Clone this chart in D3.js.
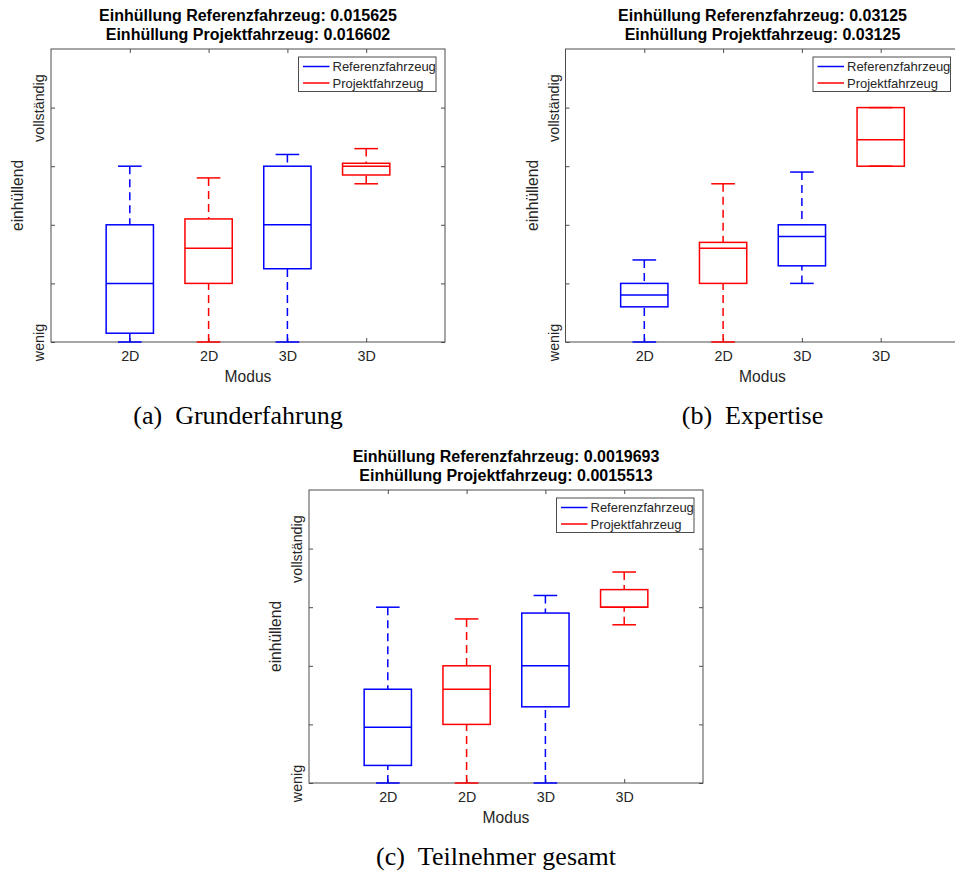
<!DOCTYPE html>
<html>
<head>
<meta charset="utf-8">
<script src="https://cdn.jsdelivr.net/npm/d3@7"></script>
<style>
  body { margin: 0; background: #fff; }
  svg { display: block; }
  text { font-family: "Liberation Sans", Arial, Helvetica, sans-serif; fill: #262626; }
  .caption { font-family: "Liberation Serif", "Times New Roman", serif; fill: #000; }
</style>
</head>
<body>
<svg id="svg" width="955" height="873"></svg>
<script>
// categories on the x axis (one box per position)
const categories = ["2D", "2D", "3D", "3D"];
const boxSeries = [0, 1, 0, 1];   // which series each box belongs to
const seriesNames = ["Referenzfahrzeug", "Projektfahrzeug"];
const seriesColors = ["#0000ff", "#ff0000"];

// y axis ticks
const yTickValues = [1, 2, 3, 4, 5];
const yTickLabels = ["wenig", "", "", "", "vollständig"];
const yDomain = [1, 6];
const xDomain = [0, 5];

// box stats per panel: [lower whisker, q1, median, q3, upper whisker]
const grunderfahrungStats = [
    [1.0, 1.15, 2.0, 3.0, 4.0],
    [1.0, 2.0, 2.6, 3.1, 3.8],
    [1.0, 2.25, 3.0, 4.0, 4.2],
    [3.7, 3.85, 4.0, 4.05, 4.3]
];
const expertiseStats = [
    [1.0, 1.6, 1.8, 2.0, 2.4],
    [1.0, 2.0, 2.6, 2.7, 3.7],
    [2.0, 2.3, 2.8, 3.0, 3.9],
    [4.0, 4.0, 4.45, 5.0, 5.0]
];
const gesamtStats = [
    [1.0, 1.3, 1.95, 2.6, 4.0],
    [1.0, 2.0, 2.6, 3.0, 3.8],
    [1.0, 2.3, 3.0, 3.9, 4.2],
    [3.7, 4.0, 4.0, 4.3, 4.6]
];

// envelope values shown in the titles
const grunderfahrungEnvelope = ["0.015625", "0.016602"];
const expertiseEnvelope = ["0.03125", "0.03125"];
const gesamtEnvelope = ["0.0019693", "0.0015513"];

const captions = ["(a)\u2002Grunderfahrung", "(b)\u2002Expertise", "(c)\u2002Teilnehmer gesamt"];

let svg = d3.select("#svg");
const width = 394, height = 293;

function drawPanel(left, top, stats, envelope, caption) {
    let chart = svg.append("g")
        .attr("transform", "translate(" + left + "," + top + ")");

    let xScale = d3.scaleLinear().domain(xDomain).range([0, width]);
    let yScale = d3.scaleLinear().domain(yDomain).range([height, 0]);
    const unit = xScale(1) - xScale(0);
    const boxW = 0.6 * unit, capW = 0.3 * unit;

    // axes with inward ticks
    let xAxis = chart.append("g")
        .attr("transform", "translate(0," + height + ")")
        .call(d3.axisBottom(xScale)
            .tickValues(d3.range(1, categories.length + 1))
            .tickFormat(d => categories[d - 1])
            .tickSizeInner(-4).tickSizeOuter(0));
    xAxis.selectAll("text")
        .attr("y", 18.5).attr("dy", null)
        .style("font-size", "14.3px");

    let yAxis = chart.append("g")
        .call(d3.axisLeft(yScale)
            .tickValues(yTickValues)
            .tickFormat((d, i) => yTickLabels[i])
            .tickSizeInner(-4).tickSizeOuter(0));
    yAxis.selectAll("text")
        .attr("x", null).attr("dy", null)
        .attr("text-anchor", "middle")
        .attr("transform", "translate(-7,0) rotate(-90)")
        .style("font-size", "14.3px");

    chart.append("g")
        .call(d3.axisTop(xScale)
            .tickValues(d3.range(1, categories.length + 1))
            .tickFormat("").tickSizeInner(-4).tickSizeOuter(0));
    chart.append("g")
        .attr("transform", "translate(" + width + ",0)")
        .call(d3.axisRight(yScale)
            .tickValues(yTickValues)
            .tickFormat("").tickSizeInner(-4).tickSizeOuter(0));

    chart.selectAll(".domain").remove();
    chart.selectAll(".tick line").attr("stroke", "#4d4d4d");

    chart.append("rect")
        .attr("width", width).attr("height", height)
        .attr("fill", "none").attr("stroke", "#4d4d4d").attr("stroke-width", 1);

    // boxes
    let boxes = chart.selectAll(".box")
        .data(stats)
        .enter().append("g")
        .attr("class", "box")
        .attr("stroke", (d, i) => seriesColors[boxSeries[i]])
        .attr("fill", "none")
        .attr("stroke-width", 1.5);

    boxes.append("line")   // upper whisker, drawn from the cap down to the box
        .attr("x1", (d, i) => xScale(i + 1)).attr("x2", (d, i) => xScale(i + 1))
        .attr("y1", d => yScale(d[4])).attr("y2", d => yScale(d[3]))
        .attr("stroke-dasharray", "8,5");
    boxes.append("line")   // lower whisker
        .attr("x1", (d, i) => xScale(i + 1)).attr("x2", (d, i) => xScale(i + 1))
        .attr("y1", d => yScale(d[0])).attr("y2", d => yScale(d[1]))
        .attr("stroke-dasharray", "8,5");
    boxes.append("line")
        .attr("x1", (d, i) => xScale(i + 1) - capW / 2).attr("x2", (d, i) => xScale(i + 1) + capW / 2)
        .attr("y1", d => yScale(d[4])).attr("y2", d => yScale(d[4]));
    boxes.append("line")
        .attr("x1", (d, i) => xScale(i + 1) - capW / 2).attr("x2", (d, i) => xScale(i + 1) + capW / 2)
        .attr("y1", d => yScale(d[0])).attr("y2", d => yScale(d[0]));
    boxes.append("rect")
        .attr("x", (d, i) => xScale(i + 1) - boxW / 2)
        .attr("y", d => yScale(d[3]))
        .attr("width", boxW)
        .attr("height", d => yScale(d[1]) - yScale(d[3]));
    boxes.append("line")
        .attr("x1", (d, i) => xScale(i + 1) - boxW / 2).attr("x2", (d, i) => xScale(i + 1) + boxW / 2)
        .attr("y1", d => yScale(d[2])).attr("y2", d => yScale(d[2]));

    // legend
    let legend = chart.append("g")
        .attr("transform", "translate(" + (width - 9 - 137.5) + ",8)");
    legend.append("rect")
        .attr("width", 137.5).attr("height", 34.5)
        .attr("fill", "#fff").attr("stroke", "#4d4d4d").attr("stroke-width", 1);
    seriesNames.forEach((name, i) => {
        let row = legend.append("g").attr("transform", "translate(0," + (9.5 + i * 16.5) + ")");
        row.append("line")
            .attr("x1", 4.5).attr("x2", 31)
            .attr("stroke", seriesColors[i]).attr("stroke-width", 1.5);
        row.append("text")
            .attr("x", 34).attr("y", 4.5)
            .style("font-size", "13px")
            .text(name);
    });

    // labels
    chart.append("text")
        .attr("x", -28).attr("y", height / 2)
        .attr("transform", "rotate(-90," + (-28) + "," + (height / 2) + ")")
        .attr("text-anchor", "middle")
        .style("font-size", "15.6px")
        .text("einhüllend");
    chart.append("text")
        .attr("x", width / 2).attr("y", height + 39.5)
        .attr("text-anchor", "middle")
        .style("font-size", "15.6px")
        .text("Modus");

    chart.append("text")
        .attr("x", width / 2).attr("y", -28)
        .attr("text-anchor", "middle")
        .style("font-size", "16px").style("font-weight", "bold")
        .style("fill", "#000")
        .text("Einhüllung Referenzfahrzeug: " + envelope[0]);
    chart.append("text")
        .attr("x", width / 2).attr("y", -9)
        .attr("text-anchor", "middle")
        .style("font-size", "16px").style("font-weight", "bold")
        .style("fill", "#000")
        .text("Einhüllung Projektfahrzeug: " + envelope[1]);

    chart.append("text")
        .attr("class", "caption")
        .attr("x", width / 2 - 10).attr("y", height + 82)
        .attr("text-anchor", "middle")
        .style("font-size", "26px")
        .text(caption);
}

drawPanel(51, 49, grunderfahrungStats, grunderfahrungEnvelope, captions[0]);
drawPanel(565.5, 49, expertiseStats, expertiseEnvelope, captions[1]);
drawPanel(309, 490, gesamtStats, gesamtEnvelope, captions[2]);
</script>
</body>
</html>
